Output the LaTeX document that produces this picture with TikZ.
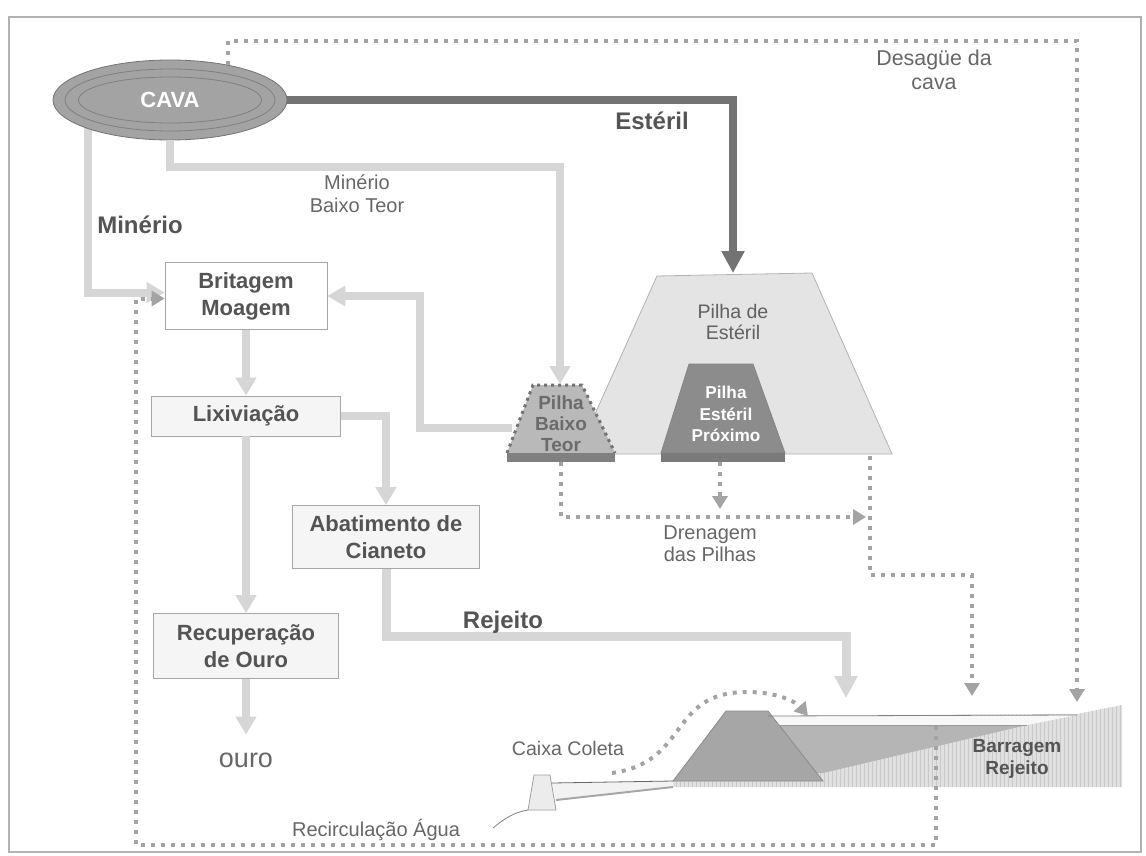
\documentclass[tikz,border=0pt]{standalone}
\usepackage{fontspec}
\setmainfont{Liberation Sans}
\usetikzlibrary{positioning,shapes.geometric,arrows.meta,calc,patterns.meta}
\pgfdeclarelayer{background}
\pgfsetlayers{background,main}
\definecolor{txtgray}{gray}{0.33}
\definecolor{lblgray}{gray}{0.40}
\tikzstyle{proc}=[draw=gray!70, thin, fill=gray!8, align=center, inner sep=0pt, text=txtgray, font=\fontsize{11}{13.5}\selectfont\bfseries]
\tikzstyle{flow}=[line width=4pt, draw=gray!32, -{Triangle[width=10pt,length=9pt]}]
\tikzstyle{waste}=[line width=4pt, draw=black!55, -{Triangle[width=11pt,length=11pt]}]
\tikzstyle{drain}=[line width=2pt, draw=gray!72, dash pattern=on 2pt off 3pt, -{Triangle[width=7.5pt,length=6.5pt]}]
\tikzstyle{lbl}=[text=txtgray, align=center, font=\fontsize{12}{14}\selectfont\bfseries]
\tikzstyle{note}=[text=lblgray, align=center, font=\fontsize{10}{11.5}\selectfont]

\begin{document}
\begin{tikzpicture}[x=0.5pt,y=-0.5pt,on grid,node distance=60pt]
   \useasboundingbox (0,0) rectangle (1146,856);
   \draw[gray!60,line width=0.8pt] (9,17) rectangle (1141,852);

   % cava
   \node[ellipse,fill=gray!72,draw=black!55,minimum width=117pt,minimum height=40pt,inner sep=0pt,
         text=white,font=\fontsize{11}{13}\selectfont\bfseries] (cava) at (170,100) {CAVA};
   \draw[black!50,thin] (cava.center) ellipse [x radius=52.5pt, y radius=15.5pt];
   \draw[black!50,thin] (cava.center) ellipse [x radius=45.75pt, y radius=11.5pt];

   % usina
   \node[proc,fill=white,minimum width=81pt,minimum height=33.5pt] (brit) at (246,296) {Britagem\\Moagem};
   \node[proc,minimum width=94.5pt,minimum height=20pt] (lix) [below=of brit] {Lixiviação};
   \node[proc,minimum width=93.5pt,minimum height=31.5pt] (abat) at (386,537) {Abatimento de\\Cianeto};
   \node[proc,minimum width=92.5pt,minimum height=32.5pt] (rec) [below=115pt of lix] {Recuperação\\de Ouro};
   \node[note,font=\fontsize{13.5}{15}\selectfont] (ouro) [below=57pt of rec] {ouro};

   % pilhas
   \draw[gray!60,thin,fill=gray!21] (577,454) -- (657,276) -- (812,273) -- (892,454) -- cycle;
   \draw[gray!95,thin,fill=gray!90] (661,453) -- (689,364) -- (753,364) -- (785,453) -- cycle;
   \fill[black!52] (661,453) rectangle (785,462);
   \fill[gray!55] (507,453) -- (533,385) -- (582,385) -- (615,453) -- cycle;
   \draw[black!55,line width=1.5pt,dash pattern=on 1.5pt off 2pt] (507,453) -- (533,385) -- (582,385) -- (615,453);
   \fill[black!50] (507,453) rectangle (615,462);
   \node[note,text=black!62,font=\fontsize{9.8}{10.5}\selectfont] (pes) at (733,322) {Pilha de\\Estéril};
   \node[text=white,align=center,font=\fontsize{8.6}{10.8}\selectfont\bfseries] (pep) at (726,414) {Pilha\\Estéril\\Próximo};
   \node[note,text=black!58,font=\fontsize{9.5}{10.6}\selectfont\bfseries] (pbt) at (561,424) {Pilha\\Baixo\\Teor};

   % barragem
   \fill[gray!10] (552,783) -- (673,781) -- (673,787) -- (556,800) -- cycle;
   \fill[gray!24] (673,787) -- (1122,787) -- (1122,705) -- (1077,714) -- (768,716) -- (673,781) -- cycle;
   \fill[pattern={Lines[angle=90,distance=2pt,line width=0.4pt]},pattern color=gray!42]
      (673,787) -- (1122,787) -- (1122,705) -- (1077,714) -- (768,716) -- (673,781) -- cycle;
   \fill[gray!6] (768,716) -- (1077,715) -- (1027,725) -- (779,725) -- cycle;
   \fill[gray!58] (779,725) -- (1027,725) -- (823,773) -- (790,773) -- cycle;
   \draw[gray!90,thin,fill=gray!70] (673,781) -- (726,711) -- (768,711) -- (823,781) -- cycle;
   \draw[black!50,thin] (768,716) -- (1077,715);
   \draw[gray!80,thin] (779,725) -- (1027,725);
   \draw[black!60,thin] (552,783) -- (673,781);
   \draw[gray!70,line width=1pt] (556,800) -- (673,787);
   \draw[gray!75,fill=gray!15] (528,810) -- (534,775) -- (550,775) -- (556,810) -- cycle;
   \draw[black!50,thin] (493,828) .. controls (505,818) and (515,812) .. (528,810);

   \coordinate (pesTop) at (733,273);
   \coordinate (pbtTop) at (560,384);
   \coordinate (pbtL) at (512,428);
   \coordinate (pbtBase) at (561,462);
   \coordinate (pepBase) at (720,462);
   \coordinate (pepDren) at (720,509);
   \coordinate (pesBase) at (870,456);
   \coordinate (drenEnd) at (866,517);
   \coordinate (pesOut) at (972,696);
   \coordinate (rejIn) at (846,698);
   \coordinate (desOut) at (1077,702);
   \coordinate (recircIn) at (936,726);
   \coordinate (recircC) at (136,845);
   \coordinate (caixaOut) at (612,773);
   \coordinate (damIn) at (808,716);

   \begin{pgfonlayer}{background}
   \draw[flow] ([xshift=-41pt,yshift=-14pt]cava.center) |- ([yshift=1.75pt]brit.west);
   \end{pgfonlayer}
   \draw[flow] (cava.south) -- ++(0,27) -| (pbtTop);
   \draw[waste] (cava.east) -| (pesTop);
   \draw[flow] (pbtL) -- ++(-92,0) |- (brit.east);
   \draw[flow] (brit) -- (lix);
   \draw[flow] (lix.east) -| (abat.north);
   \draw[flow] (lix) -- (rec);
   \draw[flow,shorten >=5.5pt] (rec) -- (ouro);
   \draw[flow,line width=4.5pt,-{Triangle[width=11pt,length=11pt]}] (abat.south) -- ++(0,68) -| (rejIn);

   \draw[drain] (cava.31) -- ++(0,-24) -| (desOut);
   \draw[drain] (pbtBase) |- (drenEnd);
   \draw[drain] (pepBase) -- (pepDren);
   \draw[drain] (pesBase) -- ++(0,119) -| (pesOut);
   \draw[drain] (recircIn) |- (recircC) |- ([yshift=-1.25pt]brit.west);
   \draw[drain] (caixaOut) .. controls (690,762) and (668,692) .. (747,692)
                           .. controls (778,692) and (796,702) .. (damIn);

   % textos
   \node[lbl] (lMin) at (140,225) {Minério};
   \node[note] (lMbt) at (357,194) {Minério\\Baixo Teor};
   \node[lbl] (lEst) at (652,121) {Estéril};
   \node[note,font=\fontsize{10.7}{12}\selectfont] (lDes) at (934,70) {Desagüe da\\cava};
   \node[lbl] (lRej) at (503,622) {Rejeito};
   \node[note,font=\fontsize{10}{11}\selectfont] (lDren) at (710,544) {Drenagem\\das Pilhas};
   \node[note,font=\fontsize{9.8}{11}\selectfont] (lCaixa) at (568,748) {Caixa Coleta};
   \node[note] (lRecirc) at (376,830) {Recirculação Água};
   \node[lbl,font=\fontsize{9.5}{11}\selectfont\bfseries] (lBar) at (1017,759) {Barragem\\Rejeito};
\end{tikzpicture}
\end{document}
